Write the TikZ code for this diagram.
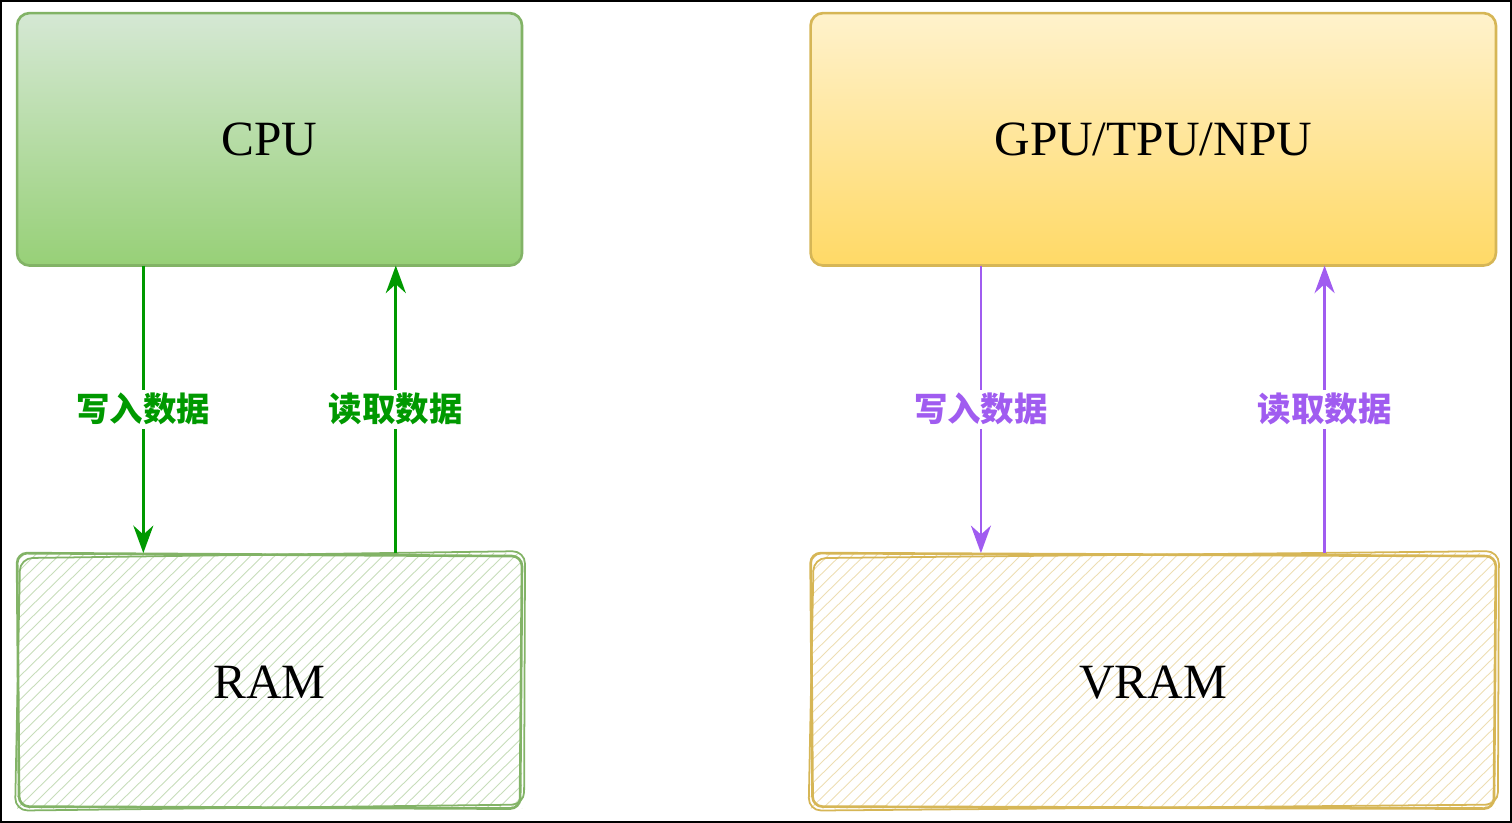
\documentclass[tikz,border=0pt]{standalone}
\usepackage{fontspec}
\setmainfont{Liberation Serif}
\newfontfamily\cjk{Noto Sans CJK SC}
\usetikzlibrary{arrows.meta}
\definecolor{cpuTop}{HTML}{D5E8D4}
\definecolor{cpuBot}{HTML}{97D077}
\definecolor{cpuLine}{HTML}{82B366}
\definecolor{gpuTop}{HTML}{FFF2CC}
\definecolor{gpuBot}{HTML}{FFD966}
\definecolor{gpuLine}{HTML}{D6B656}
\definecolor{wGreen}{HTML}{009900}
\definecolor{wPurple}{HTML}{A05CF0}
\tikzset{
  chip/.style={draw, line width=1.5pt, rounded corners=0.25cm, font=\fontsize{28}{30}\selectfont},
  memtext/.style={font=\fontsize{28}{30}\selectfont},
  flow/.style={line width=1.5pt, -{Stealth[length=0.55cm, width=0.4cm]}},
  flowtext/.style={fill=white, inner sep=2pt, font=\cjk\bfseries\fontsize{19}{21}\selectfont}
}
\begin{document}
\begin{tikzpicture}[x=0.02cm, y=-0.02cm]
\draw[line width=1.2pt] (2,2) rectangle (1509,821);
% processors
\shade[top color=cpuTop, bottom color=cpuBot, rounded corners=0.25cm] (18,14) rectangle (522,266);
\draw[chip, cpuLine] (18,14) rectangle (522,266);
\node[memtext] (cpu) at (270,140) {CPU};
\shade[top color=gpuTop, bottom color=gpuBot, rounded corners=0.25cm] (810,14) rectangle (1494,266);
\draw[chip, gpuLine] (810,14) rectangle (1494,266);
\node[memtext] (gpu) at (1152,140) {GPU/TPU/NPU};
% memories, sketch style
\foreach \xa/\xb/\col/\nm/\txt in {18/522/cpuLine/ram/RAM, 810/1494/gpuLine/vram/VRAM}{
  \begin{scope}
    \clip (\xa,553) rectangle (\xb,808);
    \foreach \k in {-300,-288,...,700}
      \draw[\col!45, line width=0.5pt] (\xa+\k,808) -- (\xa+\k+260,553);
  \end{scope}
  \draw[\col, line width=1.5pt, rounded corners=0.2cm] (\xa,553) -- (\xb,556) -- (\xb-2,808) -- (\xa+2,806) -- cycle;
  \draw[\col, line width=1pt, rounded corners=0.25cm] (\xa+3,558) -- (\xb+3,551) -- (\xb+2,804) -- (\xa-2,810) -- cycle;
  \node[memtext] (\nm) at ({(\xa+\xb)/2},682) {\txt};
}
% arrows
\coordinate (c1) at (144,266); \coordinate (r1) at (144,553);
\coordinate (c2) at (396,266); \coordinate (r2) at (396,553);
\coordinate (g1) at (980,266); \coordinate (v1) at (980,553);
\coordinate (g2) at (1323,266); \coordinate (v2) at (1323,553);
\draw[flow, wGreen] (c1) -- node[flowtext, pos=0.5] {写入数据} (r1);
\draw[flow, wGreen] (r2) -- node[flowtext, pos=0.5] {读取数据} (c2);
\draw[flow, wPurple] (g1) -- node[flowtext, pos=0.5] {写入数据} (v1);
\draw[flow, wPurple] (v2) -- node[flowtext, pos=0.5] {读取数据} (g2);
\end{tikzpicture}
\end{document}
